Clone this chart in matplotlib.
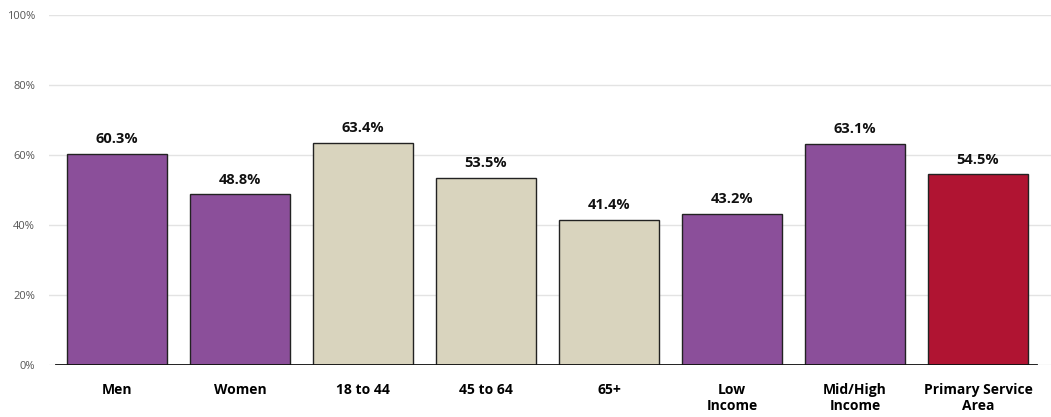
import matplotlib
matplotlib.use("Agg")
import matplotlib.pyplot as plt
from matplotlib.ticker import PercentFormatter

# Data
categories = ["Men", "Women", "18 to 44", "45 to 64", "65+",
              "Low\nIncome", "Mid/High\nIncome", "Primary Service\nArea"]
values = [60.3, 48.8, 63.4, 53.5, 41.4, 43.2, 63.1, 54.5]
groups = ["sex", "sex", "age", "age", "age", "income", "income", "total"]

purple = "#8B4F9A"
beige = "#D9D4BE"
red = "#B01432"
group_colors = {"sex": purple, "age": beige, "income": purple, "total": red}

plt.rcParams['font.family'] = ['Open Sans', 'DejaVu Sans']

fig = plt.figure(figsize=(10.51, 4.17), dpi=100)
ax = fig.add_axes([49 / 1051, 1 - 365 / 417, 1002 / 1051, 350 / 417])

x = list(range(len(categories)))
colors = [group_colors[g] for g in groups]
bars = ax.bar(x, values, width=0.81, color=colors, edgecolor="#222222",
              linewidth=1.0, zorder=3)

for b, v in zip(bars, values):
    ax.text(b.get_x() + b.get_width() / 2, v + 2.2, f"{v:.1f}%",
            ha="center", va="bottom", fontsize=10.5, fontweight="bold",
            color="#111111")

ax.set_xlim(-0.553, -0.553 + 1002 / 123)
ax.set_ylim(0, 100)
ax.set_yticks([0, 20, 40, 60, 80, 100])
ax.yaxis.set_major_formatter(PercentFormatter(decimals=0))
ax.set_xticks(x)
ax.set_xticklabels(categories, fontsize=10, fontweight="bold", linespacing=1.2,
                   va="top")
ax.tick_params(axis="x", length=0, pad=13)
ax.tick_params(axis="y", length=0, pad=10, labelsize=8, labelcolor="#555555")

ax.grid(axis="y", color="#E3E3E3", linewidth=1, zorder=0)
for s in ax.spines.values():
    s.set_visible(False)
ax.axhline(0, xmin=7 / 1002, xmax=988 / 1002, color="#111111",
           linewidth=1.3, zorder=4)

fig.savefig("out.png", dpi=100)
